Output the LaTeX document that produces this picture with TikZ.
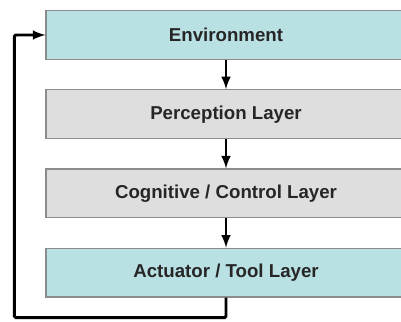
\documentclass[tikz,border=0pt]{standalone}
\usepackage{fontspec}
\setmainfont{Liberation Sans}
\usetikzlibrary{positioning,arrows,calc}
\tikzset{every picture/.style={>=latex,thick}}
\tikzset{layer/.style={draw=black!45,line width=0.9pt,minimum width=270pt,minimum height=36.5pt,
  font=\fontsize{14}{16}\selectfont\bfseries,text=black!85}}
\tikzset{outer layer/.style={layer,fill=envcol}}
\tikzset{inner layer/.style={layer,fill=black!13}}
\tikzset{flow/.style={->,line width=2.2pt}}
\definecolor{envcol}{HTML}{B9E0E3}
\begin{document}
\begin{tikzpicture}[x=0.75pt,y=-0.75pt,node distance=22pt]
  \useasboundingbox (0,0) rectangle (401,322);
  \node[outer layer] (env) at (226,35) {Environment};
  \node[inner layer,below=of env] (perc) {Perception Layer};
  \node[inner layer,below=of perc] (cogn) {Cognitive / Control Layer};
  \node[outer layer,below=of cogn] (act) {Actuator / Tool Layer};
  \draw[flow] (env) -- (perc);
  \draw[flow] (perc) -- (cogn);
  \draw[flow] (cogn) -- (act);
  % feedback loop
  \draw[flow,rounded corners=1pt] (act.south) -- ++(0,20) -| ($(env.west)+(-31,0)$) -- (env.west);
\end{tikzpicture}
\end{document}
